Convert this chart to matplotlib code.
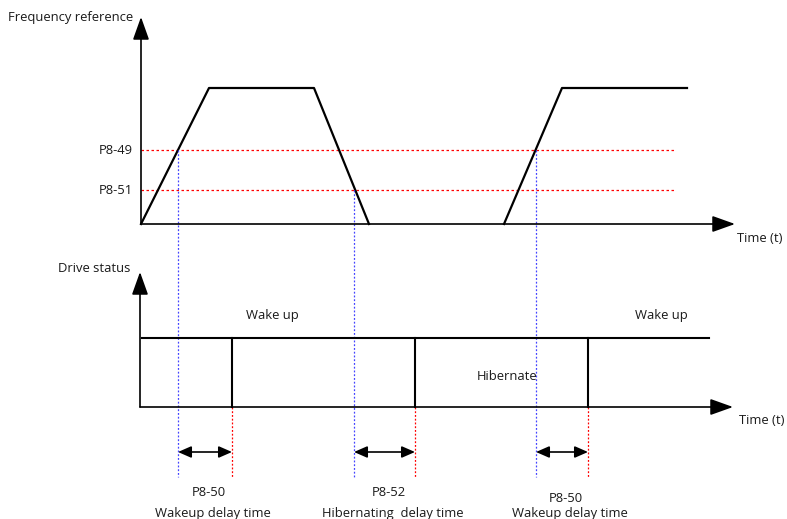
import matplotlib
matplotlib.use("Agg")
import matplotlib.pyplot as plt

# frequency reference waveform (pixel-like coords, y down)
freq_t = [141, 209, 314, 369]
freq_v = [224, 88, 88, 224]
freq2_t = [504, 562, 687]
freq2_v = [224, 88, 88]

# threshold levels
levels = {"P8-49": 150, "P8-51": 190}

# drive status: high level with drops at delayed instants
status_high = 338
status_low = 407
status_start, status_end = 142, 709
drop_t = [232, 415, 588]

# instants where reference crosses threshold
cross_t = [178, 354, 536]
cross_level = [150, 190, 150]

delay_labels = [("P8-50", "Wakeup delay time"),
                ("P8-52", "Hibernating  delay time"),
                ("P8-50", "Wakeup delay time")]
label_y = [492, 492, 498]

fig = plt.figure(figsize=(7.87, 5.19), dpi=100)
ax = fig.add_axes([0, 0, 1, 1])
ax.set_xlim(0, 787)
ax.set_ylim(519, 0)
ax.axis("off")

font = dict(fontsize=9.4, family=["Open Sans", "DejaVu Sans"], color="#1a1a1a")

def axis_arrow(x0, y0, x1, y1):
    ax.annotate("", xy=(x1, y1), xytext=(x0, y0),
                arrowprops=dict(arrowstyle="-|>,head_length=1.4,head_width=0.5",
                                lw=1.2, color="black", shrinkA=0, shrinkB=0,
                                mutation_scale=10))

# top axes
axis_arrow(141, 224, 141, 17)
axis_arrow(141, 224, 735, 224)
# bottom axes
axis_arrow(140, 407, 140, 272)
axis_arrow(140, 407, 733, 407)

# threshold lines
for name, y in levels.items():
    ax.plot([141, 675], [y, y], color="red", lw=0.9, ls=(0, (2, 2)))
    ax.text(133, y, name, ha="right", va="center", **font)

# reference waveform
ax.plot(freq_t, freq_v, color="black", lw=1.6)
ax.plot(freq2_t, freq2_v, color="black", lw=1.6)

# blue dotted crossing lines
for x, y in zip(cross_t, cross_level):
    ax.plot([x, x], [y, 477], color="#4444ff", lw=0.9, ls=(0, (1.5, 1.5)))

# red dotted delay end lines
for x in drop_t:
    ax.plot([x, x], [status_low, 477], color="red", lw=0.9, ls=(0, (1.5, 1.5)))

# drive status
ax.plot([status_start, status_end], [status_high, status_high], color="black", lw=1.5)
for x in drop_t:
    ax.plot([x, x], [status_high, status_low], color="black", lw=1.5)

# delay arrows and labels
for x0, x1, (code, desc), ly in zip(cross_t, drop_t, delay_labels, label_y):
    ax.annotate("", xy=(x1, 452), xytext=(x0, 452),
                arrowprops=dict(arrowstyle="<|-|>,head_length=0.8,head_width=0.35",
                                lw=1.2, color="black", shrinkA=0, shrinkB=0,
                                mutation_scale=10))
    xc = (x0 + x1) / 2
    ax.text(xc + 4, ly, code, ha="center", va="center", **font)
    ax.text(xc + 8, 514, desc, ha="center", va="center", **font)

# texts
ax.text(8, 17, "Frequency reference", ha="left", va="center", **font)
ax.text(760, 238, "Time (t)", ha="center", va="center", **font)
ax.text(130, 268, "Drive status", ha="right", va="center", **font)
ax.text(762, 421, "Time (t)", ha="center", va="center", **font)
ax.text(272, 315, "Wake up", ha="center", va="center", **font)
ax.text(661, 315, "Wake up", ha="center", va="center", **font)
ax.text(507, 376, "Hibernate", ha="center", va="center", **font)

fig.savefig("out.png", dpi=100)
